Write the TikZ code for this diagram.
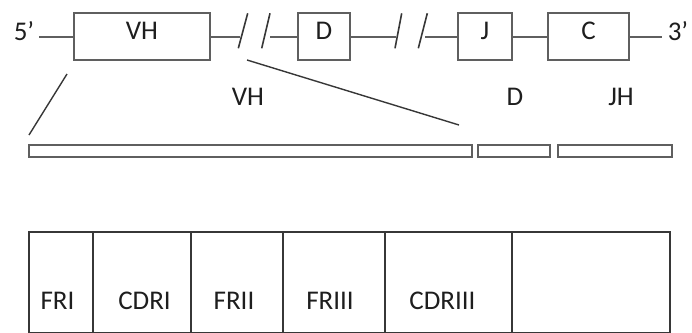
\documentclass[tikz,border=0pt]{standalone}
\usepackage{fontspec}
\setmainfont{Carlito}
\usetikzlibrary{positioning}
\definecolor{LineGray}{RGB}{95,95,95}
\definecolor{EdgeGray}{RGB}{55,55,55}
\definecolor{InkBlack}{RGB}{30,30,30}

\tikzset{
  txt/.style={text=InkBlack, inner sep=0pt, font=\fontsize{27}{32}\selectfont},
  segbox/.style={draw=LineGray, line width=2pt, minimum height=47pt, inner sep=0pt, outer sep=0pt},
  backbone/.style={draw=LineGray, line width=2pt},
  brk/.style={draw=EdgeGray, line width=1.6pt},
  zoomline/.style={draw=EdgeGray, line width=1.4pt},
  bar/.style={draw=LineGray, line width=1.8pt, fill=white, minimum height=12pt, inner sep=0pt, outer sep=0pt},
  cell/.style={draw=EdgeGray, line width=2pt, minimum height=101pt, inner sep=0pt, outer sep=0pt}
}

\begin{document}
\begin{tikzpicture}[x=1pt,y=-1pt]
\useasboundingbox (0,0) rectangle (692,332);

% gene segments
\node[segbox, minimum width=136pt, label={[txt, yshift=6pt]center:VH}] (vh) at (142,36.5) {};
\node[segbox, minimum width=52pt, label={[txt, yshift=6pt]center:D}] (d) at (324,36.5) {};
\node[segbox, minimum width=54pt, label={[txt, yshift=6pt]center:J}] (j) at (485,36.5) {};
\node[segbox, minimum width=81pt, label={[txt, yshift=6pt]center:C}] (c) at (588.5,36.5) {};

\node[txt] (five) at (24,31) {5’};
\node[txt] (three) at (678,31) {3’};

% backbone with the two breaks
\coordinate (s5) at (39,36.5);
\coordinate (s3) at (662,36.5);
\coordinate (gapA) at (240,36.5);
\coordinate (gapB) at (270,36.5);
\coordinate (gapC) at (396,36.5);
\coordinate (gapD) at (425,36.5);
\draw[backbone] (s5) -- (vh.west);
\draw[backbone] (vh.east) -- (gapA);
\draw[backbone] (gapB) -- (d.west);
\draw[backbone] (d.east) -- (gapC);
\draw[backbone] (gapD) -- (j.west);
\draw[backbone] (j.east) -- (c.west);
\draw[backbone] (c.east) -- (s3);

\draw[brk] (238.3,48.3) -- (247.7,13.3);
\draw[brk] (261.7,48.3) -- (270,13.3);
\draw[brk] (395,48.3) -- (401.7,13.3);
\draw[brk] (418.3,48.3) -- (427.3,13.3);

% rearranged heavy chain
\node[bar, minimum width=443pt] (bar-vh) at (250.5,151) {};
\node[bar, minimum width=71.7pt, right=6.3pt of bar-vh] (bar-d) {};
\node[bar, minimum width=113.4pt, right=8.3pt of bar-d] (bar-jh) {};

\node[txt] (lbl-vh) at (248,97) {VH};
\node[txt] (lbl-d) at (515,97) {D};
\node[txt] (lbl-jh) at (621,97) {JH};

\coordinate (zoomA) at (67,74);
\coordinate (zoomB) at (29,135);
\coordinate (zoomC) at (247,60);
\coordinate (zoomD) at (459,125);
\draw[zoomline] (zoomA) -- (zoomB);
\draw[zoomline] (zoomC) -- (zoomD);

% framework / CDR regions
\node[cell, minimum width=64pt] (fr1) at (61,282.5) {};
\node[cell, minimum width=98pt, right=0pt of fr1] (cdr1) {};
\node[cell, minimum width=92pt, right=0pt of cdr1] (fr2) {};
\node[cell, minimum width=102pt, right=0pt of fr2] (fr3) {};
\node[cell, minimum width=127pt, right=0pt of fr3] (cdr3) {};
\node[cell, minimum width=158pt, right=0pt of cdr3] (rest) {};

\node[txt] at ([xshift=-3.5pt, yshift=32pt]fr1.south) {FRI};
\node[txt] at ([xshift=2.5pt, yshift=32pt]cdr1.south) {CDRI};
\node[txt] at ([xshift=-3pt, yshift=32pt]fr2.south) {FRII};
\node[txt] at ([xshift=-4pt, yshift=32pt]fr3.south) {FRIII};
\node[txt] at ([xshift=-6pt, yshift=32pt]cdr3.south) {CDRIII};
\end{tikzpicture}
\end{document}
